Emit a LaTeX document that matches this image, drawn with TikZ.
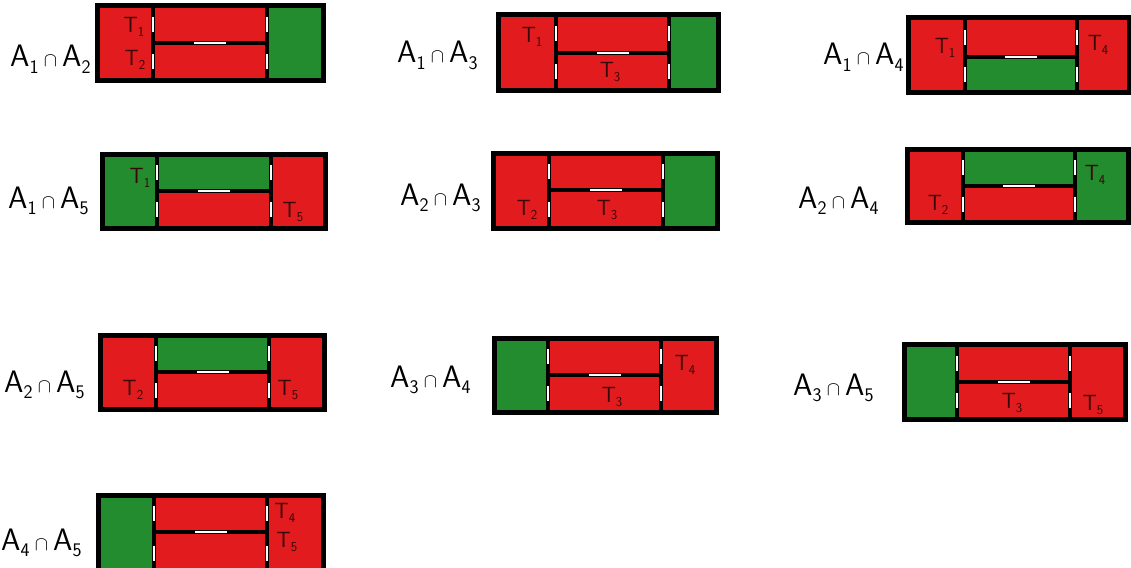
\documentclass[tikz,border=0pt]{standalone}
\usepackage{fontspec}
\definecolor{cR}{RGB}{226,28,30}
\definecolor{cG}{RGB}{34,140,46}
\newcommand\lo[1]{\raisebox{-0.45ex}{\scalebox{0.62}{#1}}}
\newcommand\capsym{\,\scalebox{0.8}{$\cap$}\,}
\def\bxcolors#1#2#3#4\relax{\def\bxcL{c#1}\def\bxcT{c#2}\def\bxcB{c#3}\def\bxcR{c#4}}
% #1 L, #2 T, #3 R, #4 B, #5 xa, #6 xb, #7 m, #8 colours (left,top,bottom,right)
\newcommand{\tbox}[8]{%
  \bxcolors#8\relax
  \fill[fill=\bxcL] (#1,#2) rectangle (#5,#4);
  \fill[fill=\bxcT] (#5,#2) rectangle (#6,#7);
  \fill[fill=\bxcB] (#5,#7) rectangle (#6,#4);
  \fill[fill=\bxcR] (#6,#2) rectangle (#3,#4);
  \pgfmathsetmacro\yu{(#2+#7)/2}%
  \pgfmathsetmacro\yd{(#7+#4)/2}%
  \pgfmathsetmacro\xm{(#5+#6)/2}%
  \draw[divider] (#5,#2) -- (#5,#4) (#6,#2) -- (#6,#4) (#5,#7) -- (#6,#7);
  \draw[gapline] (#5,\yu-7.5) -- (#5,\yu+7.5) (#5,\yd-7.5) -- (#5,\yd+7.5)
                 (#6,\yu-7.5) -- (#6,\yu+7.5) (#6,\yd-7.5) -- (#6,\yd+7.5)
                 (\xm-16,#7) -- (\xm+16,#7);
  \draw[frame] (#1,#2) rectangle (#3,#4);
}
\tikzset{
  frame/.style={line width=5pt, draw=black},
  divider/.style={line width=4.5pt, draw=black},
  gapline/.style={line width=2.8pt, draw=white},
  lab/.style={anchor=base west, inner sep=0pt, text=black, font=\sffamily\fontsize{31}{31}\selectfont},
  tl/.style={inner sep=0pt, text=black!75!cR, font=\sffamily\fontsize{22}{22}\selectfont}
}
\begin{document}
\begin{tikzpicture}[x=1pt,y=-1pt]
\useasboundingbox[fill=white] (0,0) rectangle (1131,567);
% boxes
\tbox{97}{6}{323}{81}{153}{267}{43}{RRRG}
\tbox{498}{15}{718}{91}{556}{669}{53}{RRRG}
\tbox{908}{18}{1129}{93}{965}{1077}{57}{RRGR}
\tbox{102}{154}{325}{228}{157}{271}{191}{GGRR}
\tbox{493}{153}{717}{228}{549}{663}{190}{RRRG}
\tbox{907}{149}{1128}{222}{963}{1075}{186}{RGRG}
\tbox{100}{335}{324}{409}{156}{269}{372}{RGRR}
\tbox{494}{338}{716}{412}{548}{661}{375}{GRRR}
\tbox{904}{344}{1125}{419}{957}{1070}{382}{GRRR}
\tbox{98}{495}{323}{574}{154}{267}{532}{GRRR}
% set labels
\node[lab] (l12) at (10,67)  {A\lo{1}\capsym A\lo{2}};
\node[lab] (l13) at (397,63) {A\lo{1}\capsym A\lo{3}};
\node[lab] (l14) at (823,65) {A\lo{1}\capsym A\lo{4}};
\node[lab] (l15) at (8,208) {A\lo{1}\capsym A\lo{5}};
\node[lab] (l23) at (400,205) {A\lo{2}\capsym A\lo{3}};
\node[lab] (l24) at (798,208) {A\lo{2}\capsym A\lo{4}};
\node[lab] (l25) at (4,392)  {A\lo{2}\capsym A\lo{5}};
\node[lab] (l34) at (390,387) {A\lo{3}\capsym A\lo{4}};
\node[lab] (l35) at (793,395) {A\lo{3}\capsym A\lo{5}};
\node[lab] (l45) at (1,550)  {A\lo{4}\capsym A\lo{5}};
% T labels
\node[tl] (t12a) at (134,27)  {T\lo{1}};
\node[tl] (t12b) at (135,60)  {T\lo{2}};
\node[tl] (t13a) at (532,37)  {T\lo{1}};
\node[tl] (t13b) at (610,72)  {T\lo{3}};
\node[tl] (t14a) at (945,48)  {T\lo{1}};
\node[tl] (t14b) at (1098,45) {T\lo{4}};
\node[tl] (t15a) at (140,178) {T\lo{1}};
\node[tl] (t15b) at (293,212) {T\lo{5}};
\node[tl] (t23a) at (527,210) {T\lo{2}};
\node[tl] (t23b) at (607,210) {T\lo{3}};
\node[tl] (t24a) at (938,205) {T\lo{2}};
\node[tl] (t24b) at (1095,175) {T\lo{4}};
\node[tl] (t25a) at (133,390) {T\lo{2}};
\node[tl] (t25b) at (288,390) {T\lo{5}};
\node[tl] (t34a) at (612,397) {T\lo{3}};
\node[tl] (t34b) at (685,365) {T\lo{4}};
\node[tl] (t35a) at (1012,403) {T\lo{3}};
\node[tl] (t35b) at (1093,405) {T\lo{5}};
\node[tl] (t45a) at (285,513) {T\lo{4}};
\node[tl] (t45b) at (287,542) {T\lo{5}};
\end{tikzpicture}
\end{document}
